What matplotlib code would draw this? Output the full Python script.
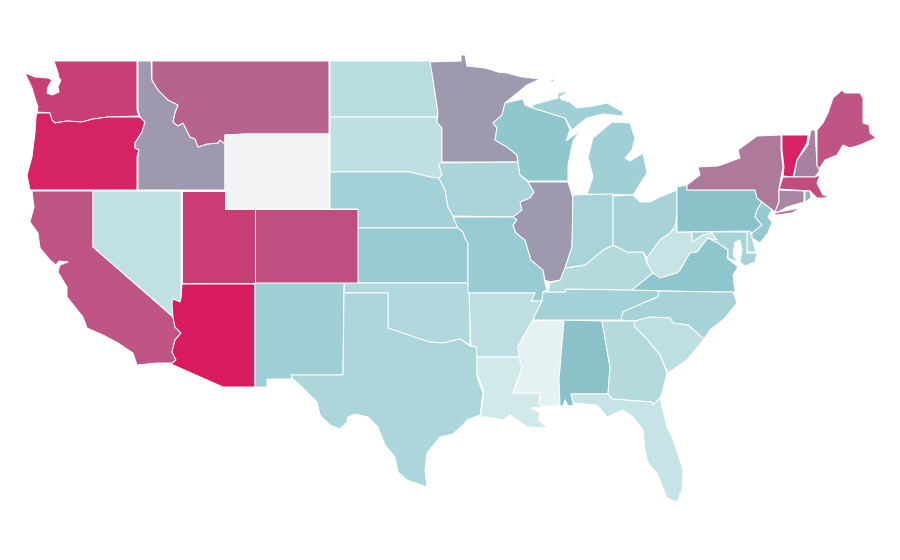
import numpy as np
import matplotlib
matplotlib.use("Agg")
import matplotlib.pyplot as plt
from matplotlib.collections import PolyCollection
from matplotlib.colors import LinearSegmentedColormap, Normalize

# Choropleth values by state (NaN = no data)
states = ["WA","OR","CA","NV","ID","MT","WY","UT","CO","AZ","NM","ND","SD","NE","KS","OK","TX",
          "MN","IA","MO","AR","LA","MS","AL","TN","KY","IL","WI","MI","IN","OH","WV","VA","NC",
          "SC","GA","FL","PA","NY","VT","NH","ME","MA","CT","RI","NJ","DE","MD"]
values = [87,97,79,21,55,74,np.nan,88,81,100,39,25,22,36,43,29,32,
          55,33,42,23,12,2,50,36,27,55,47,38,34,35,18,48,35,
          23,27,18,50,66,97,63,79,82,61,52,44,30,34]

# Map outlines, in the reference's map projection units
outlines = {
"WA":[[(54,61),(137,61),(137,110),(139,116),(108,117),(93,119),(82,122),(67,121),(55,123),(52,120),(50,113),(37,112),(38,107),(35,98),(32,88),(25,73),(35,77),(48,78),(52,80),(48,87),(47,93),(52,95),(59,92),(58,87),(61,80),(59,78),(58,73),(56,67)]],
"OR":[[(37,113),(50,113),(52,120),(55,123),(67,121),(82,122),(93,119),(108,117),(140,117),(145,122),(142,132),(135,143),(135,148),(139,150),(137,157),(137,190),(30,190),(27,175),(32,157),(35,133),(36,117)]],
"CA":[[(32,191),(93,191),(93,247),(173,317),(175,327),(181,333),(175,340),(172,352),(176,360),(172,363),(157,363),(137,365),(133,353),(118,343),(103,335),(87,328),(83,317),(67,297),(67,287),(58,272),(60,265),(68,262),(59,261),(56,265),(50,260),(40,248),(38,233),(30,222),(34,207)]],
"NV":[[(93,191),(181,191),(181,298),(180,302),(173,299),(172,303),(174,317),(93,247)]],
"ID":[[(138,61),(151,61),(152,80),(158,90),(168,100),(178,105),(175,113),(173,122),(178,126),(183,123),(190,137),(195,139),(198,147),(207,144),(218,143),(220,140),(225,144),(225,190),(138,190),(138,157),(139,150),(135,148),(135,143),(142,132),(145,122),(140,117),(138,110)]],
"MT":[[(152,61),(329,61),(329,134),(245,134),(225,135),(225,144),(220,140),(218,143),(207,144),(198,147),(195,139),(190,137),(183,123),(178,126),(173,122),(175,113),(178,105),(168,100),(158,90),(152,80)]],
"WY":[[(225,135),(245,134),(329,134),(329,209),(225,209)]],
"UT":[[(182,191),(225,191),(225,209),(255,209),(255,283),(182,283)]],
"CO":[[(255,209),(358,209),(358,283),(255,283)]],
"AZ":[[(182,284),(255,284),(255,387),(223,387),(171,364),(176,360),(172,352),(175,340),(181,333),(175,327),(173,317),(172,303),(173,299),(180,302),(181,298)]],
"NM":[[(255,283),(344,283),(343,375),(291,375),(292,379),(267,379),(267,387),(255,387)]],
"ND":[[(330,61),(431,61),(432,73),(435,93),(438,113),(437,117),(330,117)]],
"SD":[[(330,117),(437,117),(437,122),(442,128),(442,162),(439,165),(442,175),(439,178),(430,177),(410,172),(330,172)]],
"NE":[[(330,172),(410,172),(430,177),(439,178),(445,190),(448,207),(453,216),(458,228),(358,228),(358,209),(330,209)]],
"KS":[[(358,228),(458,228),(463,232),(465,238),(468,243),(468,283),(358,283)]],
"OK":[[(345,283),(468,283),(470,303),(470,345),(460,339),(443,343),(430,342),(417,338),(400,332),(388,328),(388,293),(344,293)]],
"TX":[[(344,293),(388,293),(388,328),(400,332),(417,338),(430,342),(443,343),(460,339),(470,346),(477,347),(477,377),(483,393),(480,415),(467,420),(463,425),(453,434),(440,437),(427,453),(425,470),(427,487),(407,480),(398,472),(395,457),(385,445),(378,427),(368,417),(355,414),(348,417),(347,422),(340,429),(330,425),(320,415),(317,402),(302,387),(292,378),(291,375),(343,375)]],
"MN":[[(430,62),(461,61),(461,55),(465,55),(467,66),(485,68),(498,72),(507,73),(522,77),(540,79),(527,85),(505,103),(502,115),(493,123),(497,128),(495,140),(507,147),(517,155),(518,162),(442,162),(442,128),(437,122),(438,113),(435,93),(432,73)]],
"IA":[[(440,163),(518,162),(520,175),(528,182),(534,192),(530,198),(520,202),(522,210),(513,217),(453,216),(448,207),(445,190),(439,178),(442,175),(439,165)]],
"MO":[[(453,217),(513,217),(517,220),(513,225),(516,233),(525,240),(531,260),(543,270),(545,283),(547,290),(543,292),(542,301),(531,301),(535,293),(468,293),(468,243),(465,238),(463,232),(458,228)]],
"AR":[[(469,293),(535,293),(531,301),(542,301),(535,315),(532,322),(523,337),(518,347),(520,357),(477,357),(476,347),(471,346)]],
"LA":[[(477,357),(519,357),(522,368),(513,393),(540,393),(539,403),(543,407),(531,408),(540,413),(538,420),(548,428),(527,427),(510,415),(503,420),(487,417),(480,417),(484,392),(477,373)]],
"MS":[[(532,321),(564,320),(559,380),(560,406),(542,406),(539,403),(540,393),(513,393),(522,368),(519,357),(518,347),(523,337)]],
"AL":[[(564,320),(602,321),(610,367),(608,394),(571,394),(574,405),(568,406),(565,400),(563,406),(560,406),(559,380)]],
"GA":[[(602,321),(635,321),(634,326),(645,337),(660,355),(667,373),(662,393),(660,398),(653,405),(652,402),(612,399),(608,394),(610,367)]],
"FL":[[(571,394),(608,394),(612,399),(652,402),(653,405),(660,398),(667,427),(672,437),(683,470),(682,490),(677,502),(667,498),(657,473),(648,463),(645,450),(643,430),(633,417),(623,410),(607,417),(597,405),(573,403)]],
"SC":[[(635,321),(650,317),(670,318),(673,323),(688,325),(704,339),(687,360),(668,373),(660,355),(645,337),(634,326)]],
"NC":[[(621,320),(623,312),(643,303),(658,297),(659,291),(720,292),(733,292),(737,303),(725,318),(710,330),(704,339),(688,325),(673,323),(670,318),(650,317),(635,321)]],
"TN":[[(548,292),(565,292),(566,289),(632,290),(667,291),(659,291),(658,297),(643,303),(623,312),(621,320),(533,320),(535,315),(542,301),(543,292)]],
"KY":[[(548,292),(550,283),(560,280),(565,268),(585,265),(603,250),(613,245),(627,252),(643,252),(647,263),(653,273),(642,282),(632,290),(566,289),(565,292)]],
"IL":[[(528,182),(568,182),(573,198),(572,247),(565,268),(560,280),(550,282),(545,280),(543,270),(531,260),(525,240),(516,233),(513,225),(517,220),(513,217),(522,210),(520,202),(530,198),(534,192)]],
"IN":[[(573,195),(613,194),(613,245),(603,250),(585,265),(565,268),(572,247)]],
"OH":[[(613,196),(633,195),(640,202),(650,202),(660,197),(677,190),(677,215),(675,227),(670,233),(660,240),(647,258),(643,252),(627,252),(613,245)]],
"WV":[[(647,258),(660,240),(670,233),(675,227),(677,215),(677,232),(692,232),(692,242),(703,235),(712,233),(717,240),(708,238),(697,252),(690,253),(680,270),(677,273),(660,278),(653,273),(647,263)]],
"VA":[[(632,290),(642,282),(653,273),(660,278),(677,273),(680,270),(690,253),(697,252),(708,238),(718,243),(728,250),(727,258),(738,267),(733,275),(735,292),(720,292),(667,291)]],
"MD":[[(692,232),(747,232),(747,253),(757,253),(755,262),(745,266),(740,262),(742,250),(740,240),(735,242),(733,255),(738,262),(728,258),(728,250),(718,243),(708,238),(717,240),(712,233),(703,235),(692,242)]],
"DE":[[(747,232),(750,231),(756,252),(747,252)]],
"NJ":[[(762,202),(772,210),(768,217),(772,222),(768,233),(760,243),(752,238),(752,233),(762,225),(755,217),(757,210)]],
"PA":[[(677,187),(687,185),(687,190),(755,190),(757,198),(762,202),(757,210),(755,217),(762,225),(752,233),(747,231),(677,232)]],
"NY":[[(687,185),(700,175),(698,167),(718,166),(740,158),(738,150),(757,136),(781,135),(781,150),(783,167),(779,188),(779,202),(775,212),(762,202),(757,198),(755,190),(687,190)],
      [(773,213),(800,208),(792,213),(777,215)]],
"VT":[[(782,135),(808,135),(807,143),(797,160),(793,177),(783,176),(784,167),(782,150)]],
"NH":[[(811,130),(815,130),(817,165),(820,170),(815,177),(794,177),(797,160),(808,145)]],
"ME":[[(817,130),(823,123),(828,113),(833,98),(842,90),(845,93),(860,93),(863,98),(863,123),(869,125),(870,133),(876,138),(860,145),(850,148),(843,145),(837,155),(825,160),(819,169),(817,165)]],
"MA":[[(783,177),(815,177),(820,175),(817,183),(823,195),(830,196),(823,198),(817,198),(810,191),(779,189)]],
"CT":[[(779,190),(804,191),(804,202),(787,207),(778,212),(775,212),(779,202)]],
"RI":[[(805,191),(810,191),(811,198),(805,202)]],
"WI":[[(505,103),(523,99),(525,105),(533,108),(565,118),(570,130),(566,141),(580,131),(573,141),(568,165),(568,181),(528,181),(520,175),(518,162),(517,155),(507,147),(495,140),(497,128),(493,123),(502,115)]],
"MI":[[(532,105),(558,98),(558,93),(568,91),(560,97),(562,100),(570,102),(577,108),(593,106),(607,103),(623,112),(623,116),(603,114),(587,118),(572,130),(565,118),(533,108)],
      [(593,138),(612,122),(630,123),(635,138),(632,150),(625,158),(630,161),(643,153),(647,173),(635,192),(633,195),(587,194),(593,177),(588,157)],
      [(549,81),(556,78),(553,82)]],
}

cmap = LinearSegmentedColormap.from_list("rate", [(0.0,"#e8f4f5"),(0.5,"#8ac4cb"),(0.55,"#9f98ae"),(1.0,"#d81b60")])
cmap.set_bad("#f2f3f5")

polys, poly_vals = [], []
for s, v in zip(states, values):
    for part in outlines[s]:
        polys.append(part)
        poly_vals.append(v)

fig = plt.figure(figsize=(9, 5.6), dpi=100)
ax = fig.add_axes([0, 0, 1, 1])
pc = PolyCollection(polys, array=np.array(poly_vals, dtype=float), cmap=cmap,
                    norm=Normalize(0, 100), edgecolors="white", linewidths=0.7)
ax.add_collection(pc)
ax.set_xlim(0, 900)
ax.set_ylim(560, 0)
ax.axis("off")
fig.savefig("out.png", dpi=100, facecolor="white")
